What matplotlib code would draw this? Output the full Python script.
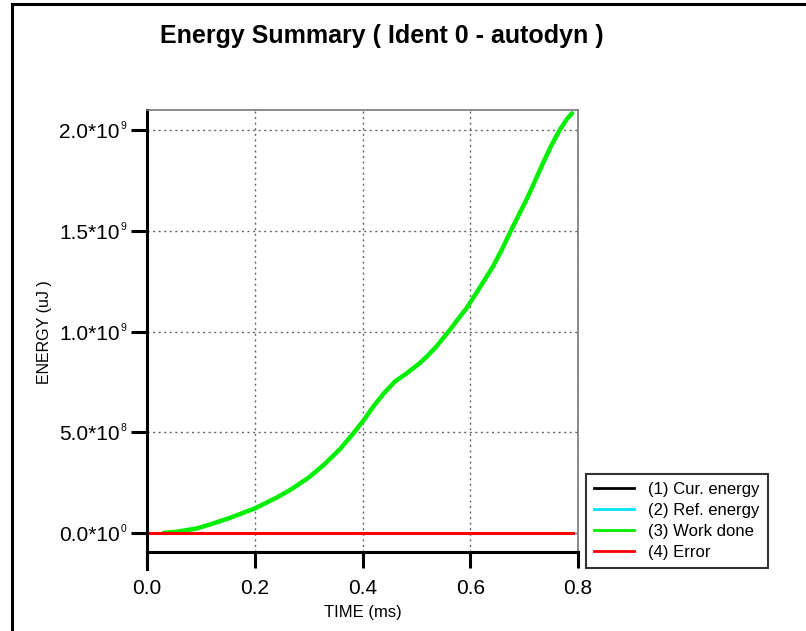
import matplotlib.pyplot as plt
from matplotlib.lines import Line2D
from matplotlib.patches import Rectangle
from matplotlib.ticker import FuncFormatter
from matplotlib.transforms import blended_transform_factory, ScaledTranslation

plt.rcParams['font.family'] = ['Liberation Sans', 'DejaVu Sans']

# --- data ---
# time in ms, energy in units of 1e9 uJ
time_work = [0.031, 0.060, 0.093, 0.120, 0.154, 0.201, 0.240, 0.266, 0.300,
             0.328, 0.358, 0.383, 0.405, 0.420, 0.440, 0.460, 0.482, 0.506,
             0.520, 0.537, 0.562, 0.580, 0.593, 0.617, 0.642, 0.660, 0.676,
             0.704, 0.720, 0.735, 0.750, 0.766, 0.780, 0.789]
work_done = [0.0, 0.008, 0.023, 0.045, 0.075, 0.123, 0.175, 0.214, 0.275,
             0.338, 0.416, 0.495, 0.570, 0.628, 0.695, 0.752, 0.793, 0.843,
             0.878, 0.926, 1.008, 1.072, 1.116, 1.216, 1.323, 1.415, 1.505,
             1.654, 1.748, 1.837, 1.922, 2.002, 2.058, 2.085]
time_flat = [0.0, 0.79]
cur_energy = [0.0, 0.0]
ref_energy = [0.0, 0.0]
error = [0.0, 0.0]

labels = ['(1) Cur. energy', '(2) Ref. energy', '(3) Work done', '(4) Error']
colors = ['black', '#00e5ff', '#00ee00', '#ff0000']

x_ticks = [0.0, 0.2, 0.4, 0.6, 0.8]
y_ticks = [0.0, 0.5e9, 1.0e9, 1.5e9, 2.0e9]

W, H = 806, 631
fig = plt.figure(figsize=(W / 100, H / 100), dpi=100)

# page border (runs off the right and bottom edges)
fig.patches.append(Rectangle((12 / W, -0.1), 1.2, 1 - 4 / H + 0.1,
                             transform=fig.transFigure, fill=False,
                             edgecolor='black', linewidth=2.2))

ax = fig.add_axes([147 / W, 1 - 552 / H, (578 - 147) / W, (552 - 110) / H])

# zero lines underneath, work done, error on top
ax.plot(time_flat, [v * 1e9 for v in cur_energy], color=colors[0], lw=2)
ax.plot(time_flat, [v * 1e9 for v in ref_energy], color=colors[1], lw=2)
ax.plot(time_work, [v * 1e9 for v in work_done], color=colors[2], lw=3.2,
        solid_capstyle='round', solid_joinstyle='round')
ax.plot(time_flat, [v * 1e9 for v in error], color=colors[3], lw=2.2)

ax.set_xlim(0, 0.8)
ax.set_ylim(-0.0944e9, 2.1013e9)
ax.set_xticks(x_ticks)
ax.set_yticks(y_ticks)
ax.xaxis.set_major_formatter(FuncFormatter(lambda v, p: f'{v:.1f}'))

ax.grid(True, linestyle=(0, (1.5, 2.5)), color='#666666', linewidth=1)
ax.tick_params(axis='both', direction='out', length=11.5, width=2.2,
               labelsize=15, color='black')
ax.tick_params(axis='y', labelleft=False)
ax.tick_params(axis='x', pad=8)

# y tick labels like "2.0*10" with a small exponent
bt = blended_transform_factory(ax.transAxes, ax.transData)
for v in y_ticks:
    exp = 0
    m = v
    while m >= 10:
        m /= 10
        exp += 1
    ax.text(0, v, f'{m:.1f}*10', fontsize=15, ha='right', va='center',
            transform=bt + ScaledTranslation(-0.27, -0.025,
                                             fig.dpi_scale_trans))
    ax.text(0, v, str(exp), fontsize=7.5, ha='left', va='center',
            transform=bt + ScaledTranslation(-0.265, 0.04,
                                             fig.dpi_scale_trans))

for side in ['top', 'right']:
    ax.spines[side].set_color('#777777')
    ax.spines[side].set_linewidth(1.2)
for side in ['left', 'bottom']:
    ax.spines[side].set_color('black')
    ax.spines[side].set_linewidth(2.2)
ax.spines['left'].set_bounds(-0.1788e9, 2.1013e9)

fig.text(382 / W, 1 - 36 / H, 'Energy Summary ( Ident 0 - autodyn )',
         ha='center', va='center', fontsize=18, fontweight='bold')
fig.text(363 / W, 1 - 613 / H, 'TIME (ms)', ha='center', va='center',
         fontsize=12)
fig.text(45 / W, 1 - 332 / H, 'ENERGY (uJ )', ha='center', va='center',
         fontsize=11.5, rotation=90)

handles = [Line2D([], [], color=c, lw=2) for c in colors]
leg = fig.legend(handles, labels, loc='lower left',
                 bbox_to_anchor=(586 / W, 1 - 568 / H), fontsize=12,
                 frameon=True, fancybox=False, handlelength=2.4,
                 handletextpad=0.85, labelspacing=0.35, borderpad=0.5,
                 borderaxespad=0)
leg.get_frame().set_edgecolor('black')
leg.get_frame().set_linewidth(1.5)

plt.savefig('out.png', dpi=100)
